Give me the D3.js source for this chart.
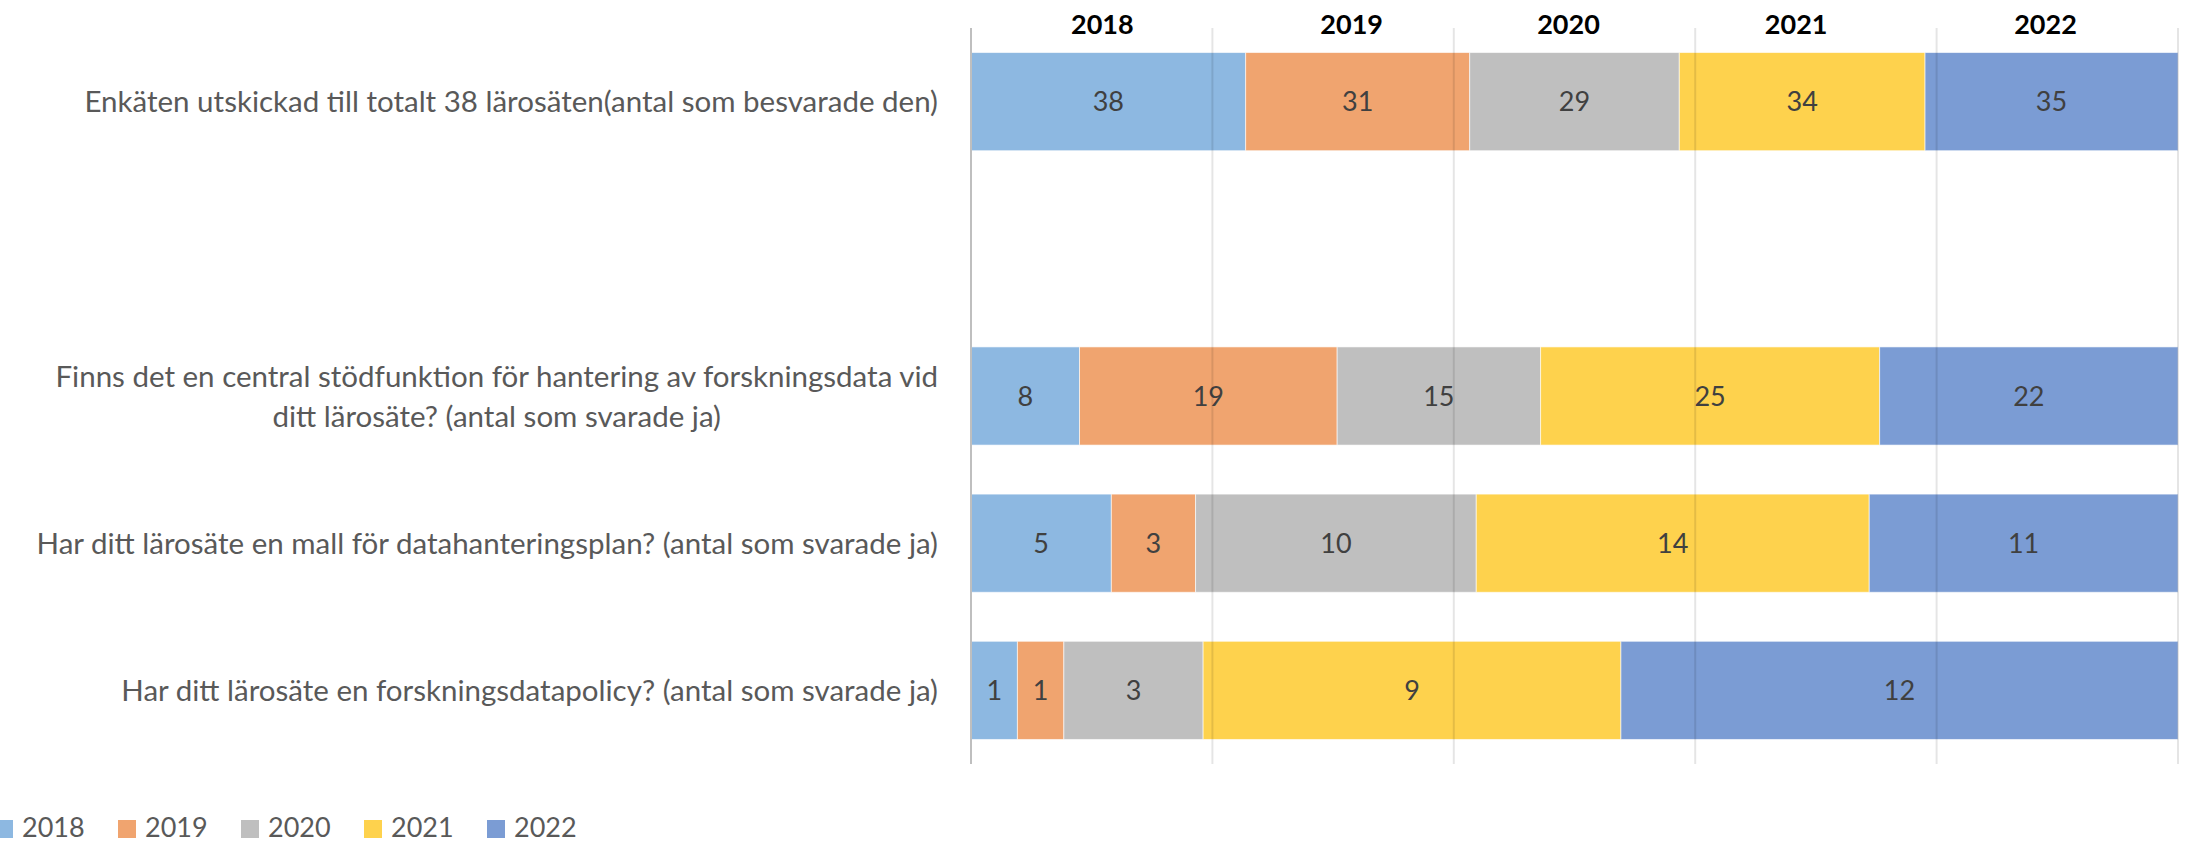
<!DOCTYPE html>
<html>
<head>
<meta charset="utf-8">
<script src="https://cdn.jsdelivr.net/npm/d3@7"></script>
<style>
  body { margin: 0; background: #fff; overflow: hidden; }
  text { font-family: Lato, "Liberation Sans", sans-serif; }
</style>
</head>
<body>
<div id="main"></div>
<script>
// categories top to bottom (the empty one is a blank row in the original)
const categories = [
    "Enkäten utskickad till totalt 38 lärosäten(antal som besvarade den)",
    "",
    "Finns det en central stödfunktion för hantering av forskningsdata vid\nditt lärosäte? (antal som svarade ja)",
    "Har ditt lärosäte en mall för datahanteringsplan? (antal som svarade ja)",
    "Har ditt lärosäte en forskningsdatapolicy? (antal som svarade ja)"
];
const years = ["2018", "2019", "2020", "2021", "2022"];
const values2018 = [38, 0, 8, 5, 1];
const values2019 = [31, 0, 19, 3, 1];
const values2020 = [29, 0, 15, 10, 3];
const values2021 = [34, 0, 25, 14, 9];
const values2022 = [35, 0, 22, 11, 12];
const gridTicks = [0, 0.2, 0.4, 0.6, 0.8, 1];

const ctx = {
    width: 2189,
    height: 843,
    plot: {left: 971, right: 2178, top: 28, bottom: 764},
    labelRight: 938
};

const colors = d3.scaleOrdinal()
    .domain(years)
    .range(["#8db8e1", "#f0a46f", "#bfbfbf", "#fed24d", "#7b9cd4"]);

// one row per category, keyed by year
const series = [values2018, values2019, values2020, values2021, values2022];
const rows = categories.map((c, i) => {
    const r = {category: c};
    years.forEach((y, k) => r[y] = series[k][i]);
    return r;
});

const stacked = d3.stack()
    .keys(years)
    .offset(d3.stackOffsetExpand)(rows);

const svg = d3.select("#main").append("svg")
    .attr("width", ctx.width)
    .attr("height", ctx.height);

const x = d3.scaleLinear().domain([0, 1]).range([ctx.plot.left, ctx.plot.right]);
const y = d3.scaleBand().domain(categories)
    .range([ctx.plot.top, ctx.plot.bottom])
    .paddingInner(0.333)
    .paddingOuter(0.1667);

// bars
const layers = svg.append("g").selectAll("g")
    .data(stacked)
    .enter().append("g")
    .attr("fill", d => colors(d.key));

layers.selectAll("rect")
    .data(d => d.filter(s => s.data[d.key] > 0))
    .enter().append("rect")
    .attr("x", d => x(d[0]))
    .attr("y", d => y(d.data.category))
    .attr("width", d => x(d[1]) - x(d[0]))
    .attr("height", y.bandwidth())
    .attr("stroke", "#fff")
    .attr("stroke-opacity", 0.6)
    .attr("stroke-width", 1);

// gridlines show through the bars
svg.append("g").selectAll("line")
    .data(gridTicks)
    .enter().append("line")
    .attr("x1", d => x(d)).attr("x2", d => x(d))
    .attr("y1", ctx.plot.top).attr("y2", ctx.plot.bottom)
    .attr("stroke", d => d === 0 ? "#bfbfbf" : "#000")
    .attr("stroke-opacity", d => d === 0 ? 1 : 0.1)
    .attr("stroke-width", 2);

// value labels
layers.selectAll("text")
    .data(d => d.filter(s => s.data[d.key] > 0).map(s => ({s: s, key: d.key})))
    .enter().append("text")
    .attr("x", d => (x(d.s[0]) + x(d.s[1])) / 2)
    .attr("y", d => y(d.s.data.category) + y.bandwidth() / 2)
    .attr("dy", "0.36em")
    .attr("text-anchor", "middle")
    .attr("fill", "#404040")
    .attr("font-size", 27)
    .text(d => d.s.data[d.key]);

// year headers above the first row
const first = stacked.map(l => l[0]);
svg.append("g").selectAll("text")
    .data(first)
    .enter().append("text")
    .attr("x", d => (x(d[0]) + x(d[1])) / 2 - 6)
    .attr("y", 34)
    .attr("text-anchor", "middle")
    .attr("font-size", 27)
    .attr("font-weight", "bold")
    .attr("fill", "#000")
    .text((d, i) => years[i]);

// category labels, wrapped lines centred in a block ending at labelRight
const catG = svg.append("g");
categories.forEach(c => {
    if (!c) return;
    const lines = c.split("\n");
    const t = catG.append("text")
        .attr("font-size", 29.5)
        .attr("fill", "#595959");
    const lineH = 40;
    const cy = y(c) + y.bandwidth() / 2;
    const spans = lines.map((ln, i) => t.append("tspan")
        .attr("y", cy + (i - (lines.length - 1) / 2) * lineH)
        .attr("dy", "0.36em")
        .text(ln));
    const widths = spans.map(s => s.node().getComputedTextLength());
    const maxW = d3.max(widths);
    const cx = ctx.labelRight - maxW / 2;
    spans.forEach(s => s.attr("x", cx).attr("text-anchor", "middle"));
});

// legend at the bottom, its first swatch runs off the left edge like the original
const legend = svg.append("g")
    .attr("transform", "translate(-5,818)");
const item = legend.selectAll("g")
    .data(years)
    .enter().append("g")
    .attr("transform", (d, i) => `translate(${i * 123},0)`);
item.append("rect")
    .attr("y", 2)
    .attr("width", 18)
    .attr("height", 18)
    .attr("fill", d => colors(d));
item.append("text")
    .attr("x", 27)
    .attr("y", 19)
    .attr("font-size", 27)
    .attr("fill", "#595959")
    .text(d => d);
</script>
</body>
</html>
